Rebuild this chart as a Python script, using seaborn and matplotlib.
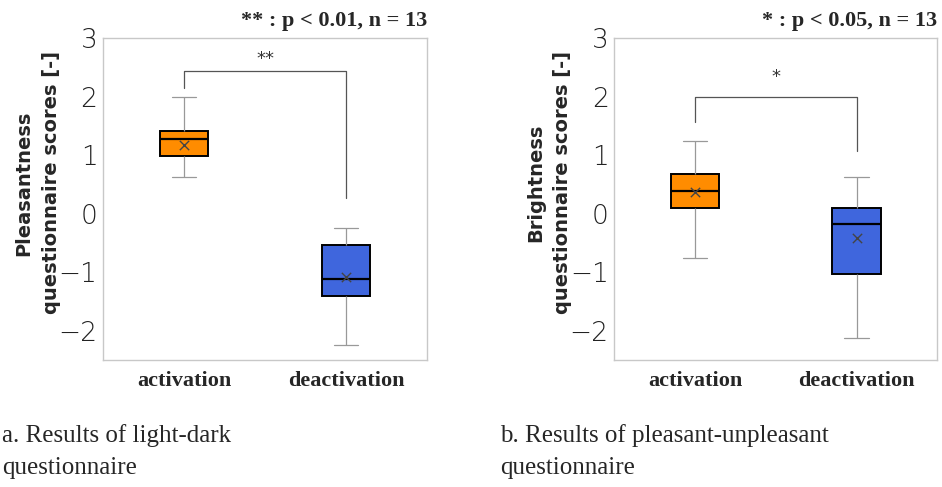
import numpy as np
import pandas as pd
import matplotlib.pyplot as plt
import seaborn as sns

# categories and colours
conditions = ['activation', 'deactivation']
box_colors = ['#FF8C00', '#3F66DD']

# five-number summaries: low whisker, Q1, median, Q3, high whisker
pleasant_act = [0.63, 0.98, 1.27, 1.42, 2.00]
pleasant_deact = [-2.25, -1.41, -1.12, -0.53, -0.25]
pleasant_means = [1.17, -1.09]
pleasant_bracket = [2.15, 2.44, 0.26]   # left end, top, right end
pleasant_star_y = 2.64

bright_act = [-0.75, 0.09, 0.38, 0.67, 1.25]
bright_deact = [-2.13, -1.03, -0.18, 0.10, 0.62]
bright_means = [0.37, -0.42]
bright_bracket = [1.57, 2.00, 1.07]
bright_star_y = 2.33

y_ticks = [-2, -1, 0, 1, 2, 3]
y_tick_labels = ['\u22122', '\u22121', '0', '1', '2', '3']

SERIF = 'Liberation Serif'
SANS = 'DejaVu Sans'


def draw_panel(ax, act, deact, means, bracket, star, star_y, ylabel, note):
    df = pd.DataFrame({
        'condition': [conditions[0]] * len(act) + [conditions[1]] * len(deact),
        'score': act + deact,
    })
    sns.boxplot(data=df, x='condition', y='score', hue='condition',
                order=conditions, hue_order=conditions, palette=box_colors,
                width=0.3, whis=(0, 100), saturation=1, legend=False, ax=ax,
                boxprops={'edgecolor': 'black', 'linewidth': 1.4},
                medianprops={'color': 'black', 'linewidth': 1.6},
                whiskerprops={'color': '#999999', 'linewidth': 0.9},
                capprops={'color': '#999999', 'linewidth': 0.9})

    pos = np.arange(len(conditions))
    sns.scatterplot(x=pos, y=means, marker='x', color='#444444', s=45,
                    linewidth=1.0, ax=ax, zorder=5)

    # significance bracket
    ax.plot([pos[0], pos[0], pos[1], pos[1]],
            [bracket[0], bracket[1], bracket[1], bracket[2]],
            color='#555555', linewidth=0.9)
    ax.text(pos.mean(), star_y, star, ha='center', va='center',
            fontsize=13, color='#333333', family=SANS)

    ax.set_xlim(-0.5, 1.5)
    ax.set_ylim(-2.5, 3)
    ax.set_yticks(y_ticks)
    ax.set_yticklabels(y_tick_labels, family=SANS, fontsize=19,
                       color='#222222', fontweight='light')
    ax.set_xticks(pos)
    ax.set_xticklabels(conditions, family=SERIF, fontsize=16,
                       fontweight='bold')
    ax.tick_params(axis='both', length=0)
    ax.tick_params(axis='y', pad=4)
    ax.tick_params(axis='x', pad=8)
    ax.set_xlabel('')
    ax.set_ylabel(ylabel, family=SANS, fontsize=14, fontweight='bold',
                  linespacing=1.55)
    ax.yaxis.set_label_coords(-0.13, 0.55)
    for sp in ax.spines.values():
        sp.set_color('#c8c8c8')
        sp.set_linewidth(1.0)
    ax.text(1.0, 1.052, note, transform=ax.transAxes, ha='right',
            va='center', family=SERIF, fontsize=16, fontweight='bold')


def main():
    sns.set_theme(style='white')
    fig = plt.figure(figsize=(9.42, 4.87), dpi=100)
    ax1 = fig.add_axes([0.1093, 0.2608, 0.344, 0.661])
    ax2 = fig.add_axes([0.652, 0.2608, 0.343, 0.661])

    draw_panel(ax1, pleasant_act, pleasant_deact, pleasant_means,
               pleasant_bracket, '**', pleasant_star_y,
               'Pleasantness\nquestionnaire scores [-]',
               '** : p < 0.01, n = 13')
    draw_panel(ax2, bright_act, bright_deact, bright_means,
               bright_bracket, '*', bright_star_y,
               'Brightness\nquestionnaire scores [-]',
               '* : p < 0.05, n = 13')

    fig.text(0.002, 0.092, 'a. Results of light-dark', family=SERIF,
             fontsize=18, va='baseline', ha='left')
    fig.text(0.002, 0.026, 'questionnaire', family=SERIF,
             fontsize=18, va='baseline', ha='left')
    fig.text(0.531, 0.092, 'b. Results of pleasant-unpleasant', family=SERIF,
             fontsize=18, va='baseline', ha='left')
    fig.text(0.531, 0.026, 'questionnaire', family=SERIF,
             fontsize=18, va='baseline', ha='left')

    fig.savefig('out.png', dpi=100)
    plt.close(fig)


if __name__ == '__main__':
    main()
